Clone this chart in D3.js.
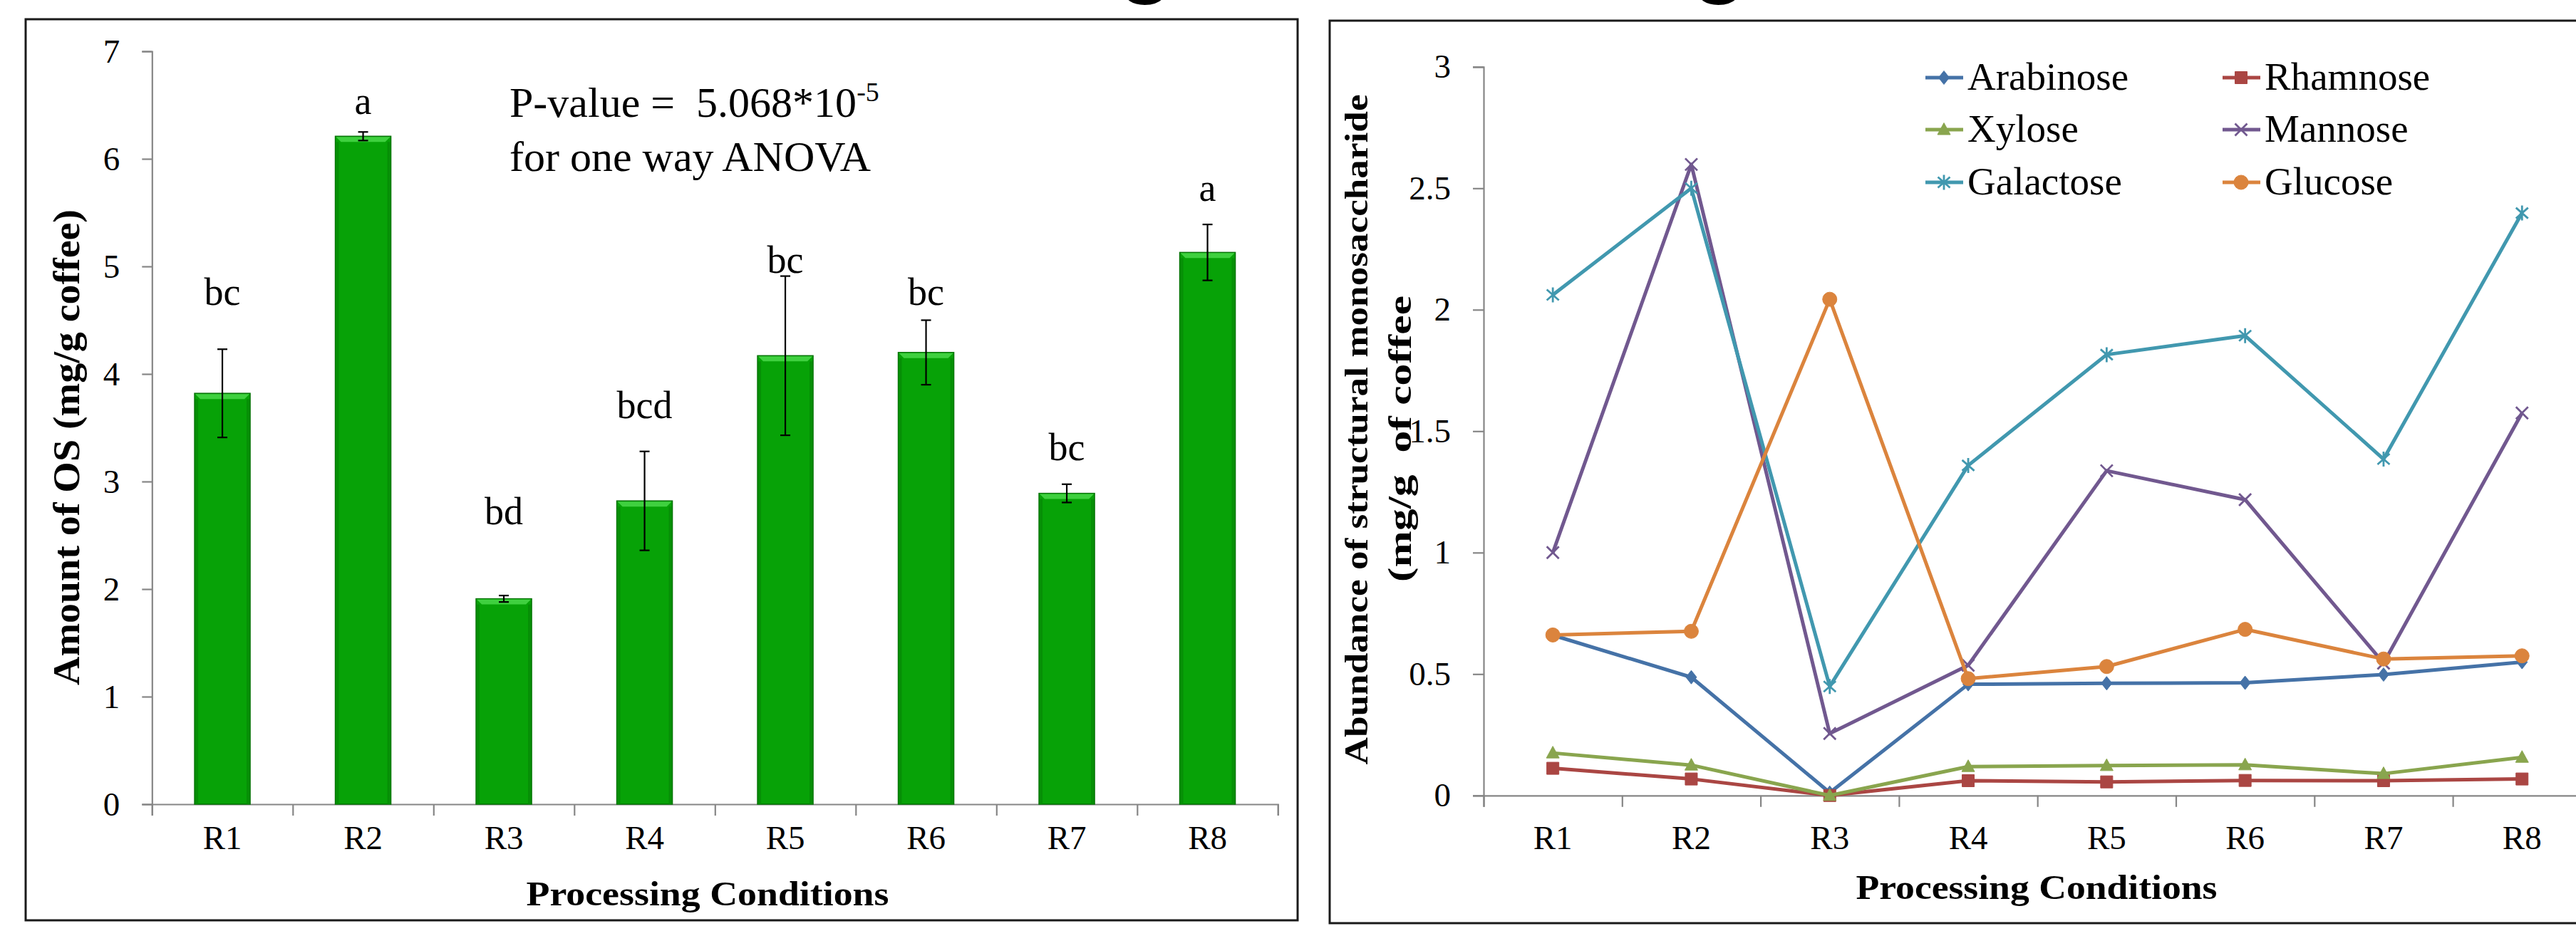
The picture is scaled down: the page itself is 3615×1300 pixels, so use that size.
<!DOCTYPE html>
<html>
<head>
<meta charset="utf-8">
<script src="https://cdn.jsdelivr.net/npm/d3@7"></script>
<style>
  html, body { margin: 0; padding: 0; background: #fff; }
  svg { display: block; }
  text { font-family: "Liberation Serif", "Times New Roman", serif; fill: #000; }
</style>
</head>
<body>
<svg id="chart" width="3615" height="1300"></svg>
<script>
// ---------------- DATA ----------------
const categories = ["R1", "R2", "R3", "R4", "R5", "R6", "R7", "R8"];

// Left chart: amount of OS (mg/g coffee)
const osValues  = [3.82, 6.21, 1.91, 2.82, 4.17, 4.20, 2.89, 5.13];
const osErrors  = [0.41, 0.04, 0.03, 0.46, 0.74, 0.30, 0.085, 0.26];
const osLetters = ["bc", "a", "bd", "bcd", "bc", "bc", "bc", "a"];
const osLetterLevel = [4.64, 6.42, 2.60, 3.59, 4.94, 4.64, 3.20, 5.61];
const leftTicks = [0, 1, 2, 3, 4, 5, 6, 7];

// Right chart: structural monosaccharides
const sugarNames = ["Arabinose", "Rhamnose", "Xylose", "Mannose", "Galactose", "Glucose"];
const arabinose = [0.66, 0.487, 0.012, 0.458, 0.462, 0.464, 0.498, 0.549];
const rhamnose  = [0.112, 0.068, 0.0, 0.061, 0.056, 0.062, 0.061, 0.068];
const xylose    = [0.175, 0.125, 0.0, 0.119, 0.123, 0.126, 0.09, 0.157];
const mannose   = [1.0, 2.598, 0.255, 0.536, 1.337, 1.218, 0.545, 1.575];
const galactose = [2.061, 2.5, 0.449, 1.359, 1.815, 1.893, 1.385, 2.398];
const glucose   = [0.661, 0.676, 2.043, 0.481, 0.531, 0.684, 0.562, 0.575];
const rightTicks = [0, 0.5, 1, 1.5, 2, 2.5, 3];

// ---------------- STYLE ----------------
const sugarColors = ["#4572A7", "#AA4643", "#89A54E", "#71588F", "#4198AF", "#DB843D"];
const sugarMarkers = ["diamond", "square", "triangle", "x", "star", "circle"];
const axisColor = "#868686";

const svg = d3.select("#chart");

// partial heading glyphs cut off at the top of the picture
svg.append("g").selectAll("text").data(["g", "g"]).join("text")
  .attr("x", (d, i) => [1608, 2413][i])
  .attr("y", -24)
  .attr("text-anchor", "middle")
  .style("font-family", "'Liberation Sans', Arial, sans-serif")
  .style("font-size", "150px")
  .text(d => d);

// panel frames
svg.append("rect").attr("x", 36).attr("y", 27).attr("width", 1785).attr("height", 1265)
  .attr("fill", "none").attr("stroke", "#1a1a1a").attr("stroke-width", 3);
svg.append("rect").attr("x", 1866).attr("y", 29).attr("width", 1800).attr("height", 1267)
  .attr("fill", "none").attr("stroke", "#1a1a1a").attr("stroke-width", 3);

// =============== LEFT: BAR CHART ===============
const xL = d3.scaleBand().domain(categories).range([213.3, 1793.3])
  .paddingInner(0.605).paddingOuter(0.3025);
const xLb = d3.scaleLinear().domain([0, categories.length]).range([213.3, 1793.3]);
const yL = d3.scaleLinear().domain([0, 7]).range([1129, 72]);

const gL = svg.append("g");

// y axis
const yAxisL = gL.append("g").attr("transform", "translate(213.3,0)")
  .call(d3.axisLeft(yL).tickValues(leftTicks).tickSize(14).tickPadding(31).tickFormat(d3.format("d")));
// x axis boundary ticks
const xAxisLb = gL.append("g").attr("transform", "translate(0,1129)")
  .call(d3.axisBottom(xLb).tickValues(d3.range(0, categories.length + 1)).tickSize(16).tickFormat(""));
// x axis labels
const xAxisL = gL.append("g").attr("transform", "translate(0,1129)")
  .call(d3.axisBottom(xL).tickSize(0).tickPadding(30));
[yAxisL, xAxisLb, xAxisL].forEach(a => {
  a.select(".domain").attr("stroke", axisColor).attr("stroke-width", 2.2);
  a.selectAll(".tick line").attr("stroke", axisColor).attr("stroke-width", 2.2);
  a.selectAll(".tick text").style("font-size", "47px").attr("fill", "#000")
    .style("font-family", "'Liberation Serif', serif");
});
xAxisL.select(".domain").remove();
xAxisL.selectAll(".tick text").attr("dy", "0.71em");

// bars
const bars = gL.append("g").selectAll("g").data(osValues).join("g");
bars.append("rect")
  .attr("x", (d, i) => xL(categories[i]))
  .attr("y", d => yL(d))
  .attr("width", xL.bandwidth())
  .attr("height", d => yL(0) - yL(d))
  .attr("fill", "#07A207")
  .attr("stroke", "#067306").attr("stroke-width", 1.5);
// bevel highlight on top
bars.append("polygon")
  .attr("points", (d, i) => {
    const x0 = xL(categories[i]), x1 = x0 + xL.bandwidth(), y0 = yL(d), b = 8;
    return [[x0 + 1, y0 + 1], [x1 - 1, y0 + 1], [x1 - b, y0 + b], [x0 + b, y0 + b]].join(" ");
  })
  .attr("fill", "#3FD03F");
// side shading
bars.append("rect")
  .attr("x", (d, i) => xL(categories[i]) + 1)
  .attr("y", d => yL(d) + 8)
  .attr("width", 4)
  .attr("height", d => Math.max(0, yL(0) - yL(d) - 8))
  .attr("fill", "#068F06");
bars.append("rect")
  .attr("x", (d, i) => xL(categories[i]) + xL.bandwidth() - 5)
  .attr("y", d => yL(d) + 8)
  .attr("width", 4)
  .attr("height", d => Math.max(0, yL(0) - yL(d) - 8))
  .attr("fill", "#068F06");

// error bars
const eb = gL.append("g").attr("stroke", "#000").attr("stroke-width", 2.2);
osValues.forEach((v, i) => {
  const cx = xL(categories[i]) + xL.bandwidth() / 2;
  const yt = yL(v + osErrors[i]), yb = yL(v - osErrors[i]);
  eb.append("line").attr("x1", cx).attr("x2", cx).attr("y1", yt).attr("y2", yb);
  eb.append("line").attr("x1", cx - 7).attr("x2", cx + 7).attr("y1", yt).attr("y2", yt);
  eb.append("line").attr("x1", cx - 7).attr("x2", cx + 7).attr("y1", yb).attr("y2", yb);
});

// significance letters
gL.append("g").selectAll("text").data(osLetters).join("text")
  .attr("x", (d, i) => xL(categories[i]) + xL.bandwidth() / 2)
  .attr("y", (d, i) => yL(osLetterLevel[i]))
  .attr("text-anchor", "middle")
  .style("font-size", "54px")
  .text(d => d);

// ANOVA annotation
const ann = gL.append("text").attr("x", 715).attr("y", 164).style("font-size", "60px")
  .attr("xml:space", "preserve").style("white-space", "pre");
ann.append("tspan").text("P-value =  5.068*10");
ann.append("tspan").attr("dy", -22).style("font-size", "38px").text("-5");
gL.append("text").attr("x", 715).attr("y", 240).style("font-size", "60px").text("for one way ANOVA");

// axis titles
gL.append("text")
  .attr("transform", "translate(111,628) rotate(-90)")
  .attr("text-anchor", "middle")
  .attr("textLength", 668).attr("lengthAdjust", "spacingAndGlyphs")
  .style("font-size", "52px").style("font-weight", "bold")
  .text("Amount of OS (mg/g coffee)");
gL.append("text")
  .attr("x", 993).attr("y", 1271)
  .attr("text-anchor", "middle")
  .attr("textLength", 509).attr("lengthAdjust", "spacingAndGlyphs")
  .style("font-size", "49px").style("font-weight", "bold")
  .text("Processing Conditions");

// =============== RIGHT: LINE CHART ===============
const xR = d3.scaleBand().domain(categories).range([2082, 2082 + 8 * 194.3]).padding(0);
const xRb = d3.scaleLinear().domain([0, categories.length]).range([2082, 2082 + 8 * 194.3]);
const yR = d3.scaleLinear().domain([0, 3]).range([1116.8, 93.8]);
const cxR = c => xR(c) + xR.bandwidth() / 2;

const gR = svg.append("g");
const yAxisR = gR.append("g").attr("transform", "translate(2082,0)")
  .call(d3.axisLeft(yR).tickValues(rightTicks).tickSize(15).tickPadding(31).tickFormat(d => String(d)));
const xAxisRb = gR.append("g").attr("transform", "translate(0,1116.8)")
  .call(d3.axisBottom(xRb).tickValues(d3.range(0, categories.length + 1)).tickSize(16).tickFormat(""));
const xAxisR = gR.append("g").attr("transform", "translate(0,1116.8)")
  .call(d3.axisBottom(xR).tickSize(0).tickPadding(42));
[yAxisR, xAxisRb, xAxisR].forEach(a => {
  a.select(".domain").attr("stroke", axisColor).attr("stroke-width", 2.2);
  a.selectAll(".tick line").attr("stroke", axisColor).attr("stroke-width", 2.2);
  a.selectAll(".tick text").style("font-size", "47px").attr("fill", "#000")
    .style("font-family", "'Liberation Serif', serif");
});
xAxisR.select(".domain").remove();
xAxisR.selectAll(".tick text").attr("dy", "0.71em");

function markerPath(type) {
  switch (type) {
    case "diamond": return "M0,-9.5L7.5,0L0,9.5L-7.5,0Z";
    case "square": return "M-8.5,-8.5H8.5V8.5H-8.5Z";
    case "triangle": return "M0,-9.5L9,7H-9Z";
    case "x": return "M-8.5,-8.5L8.5,8.5M-8.5,8.5L8.5,-8.5";
    case "star": return "M-8.5,-7.5L8.5,7.5M-8.5,7.5L8.5,-7.5M0,-10.5V10.5";
    case "circle": return d3.symbol(d3.symbolCircle, Math.PI * 10 * 10)();
  }
}
function drawMarker(sel, type, color) {
  const filled = !(type === "x" || type === "star");
  sel.append("path").attr("d", markerPath(type))
    .attr("fill", filled ? color : "none")
    .attr("stroke", color)
    .attr("stroke-width", filled ? 1 : 2.8);
}

const sugarSeries = [arabinose, rhamnose, xylose, mannose, galactose, glucose];
const line = d3.line().x((d, i) => cxR(categories[i])).y(d => yR(d));

sugarSeries.forEach((vals, s) => {
  const g = gR.append("g");
  g.append("path").attr("d", line(vals))
    .attr("fill", "none").attr("stroke", sugarColors[s]).attr("stroke-width", 5)
    .attr("stroke-linejoin", "round");
  vals.forEach((v, i) => {
    const m = g.append("g").attr("transform", `translate(${cxR(categories[i])},${yR(v)})`);
    drawMarker(m, sugarMarkers[s], sugarColors[s]);
  });
});

// legend
const legCols = [2728, 3145], legRows = [109, 182, 256];
sugarNames.forEach((name, s) => {
  const cx = legCols[s % 2], cy = legRows[Math.floor(s / 2)];
  const g = gR.append("g");
  g.append("line").attr("x1", cx - 26).attr("x2", cx + 27).attr("y1", cy).attr("y2", cy)
    .attr("stroke", sugarColors[s]).attr("stroke-width", 5);
  const m = g.append("g").attr("transform", `translate(${cx},${cy})`);
  drawMarker(m, sugarMarkers[s], sugarColors[s]);
  g.append("text").attr("x", cx + 33).attr("y", cy + 17).style("font-size", "55px").text(name);
});

// axis titles
gR.append("text")
  .attr("transform", "translate(1919,603) rotate(-90)")
  .attr("text-anchor", "middle")
  .attr("textLength", 941).attr("lengthAdjust", "spacingAndGlyphs")
  .style("font-size", "47px").style("font-weight", "bold")
  .text("Abundance of structural monosaccharide");
gR.append("text")
  .attr("transform", "translate(1980,616) rotate(-90)")
  .attr("text-anchor", "middle")
  .attr("textLength", 402).attr("lengthAdjust", "spacingAndGlyphs")
  .attr("xml:space", "preserve").style("white-space", "pre")
  .style("font-size", "47px").style("font-weight", "bold")
  .text("(mg/g  of coffee");
gR.append("text")
  .attr("x", 2858).attr("y", 1262)
  .attr("text-anchor", "middle")
  .attr("textLength", 507).attr("lengthAdjust", "spacingAndGlyphs")
  .style("font-size", "49px").style("font-weight", "bold")
  .text("Processing Conditions");
</script>
</body>
</html>
